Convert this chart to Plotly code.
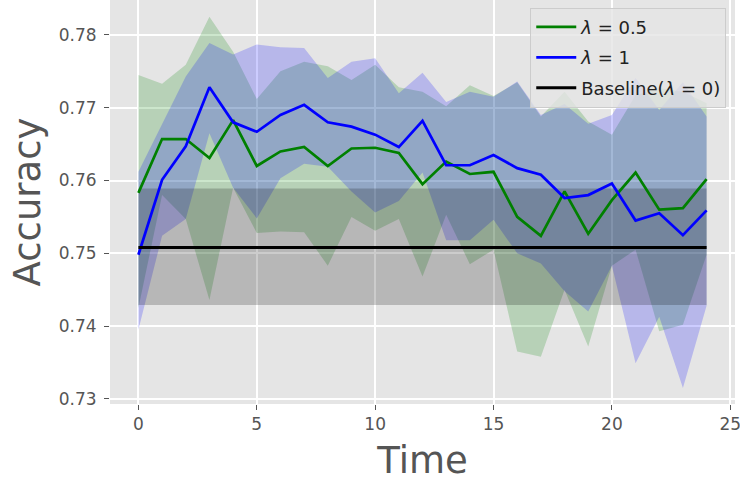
import plotly.graph_objects as go

# Time steps
time = list(range(25))

# lambda = 0.5 : mean accuracy and band limits
acc_half = [0.7583, 0.7657, 0.7657, 0.7631, 0.7683, 0.7620, 0.7640, 0.7646, 0.7620, 0.7644,
            0.7645, 0.7638, 0.7595, 0.7626, 0.7609, 0.7612, 0.7550, 0.7524, 0.7585, 0.7527,
            0.7573, 0.7611, 0.7560, 0.7562, 0.7602]
acc_half_upper = [0.7745, 0.7733, 0.7759, 0.7825, 0.7777, 0.7712, 0.7750, 0.7763, 0.7757, 0.7738,
                  0.7759, 0.7728, 0.7722, 0.7702, 0.7731, 0.7716, 0.7735, 0.7688, 0.7722, 0.7681,
                  0.7663, 0.7717, 0.7727, 0.7722, 0.7706]
acc_half_lower = [0.7425, 0.7580, 0.7547, 0.7436, 0.7590, 0.7528, 0.7530, 0.7529, 0.7483, 0.7550,
                  0.7531, 0.7547, 0.7468, 0.7553, 0.7485, 0.7505, 0.7365, 0.7358, 0.7450, 0.7372,
                  0.7483, 0.7505, 0.7393, 0.7402, 0.7498]

# lambda = 1 : mean accuracy and band limits
acc_one = [0.7498, 0.7601, 0.7647, 0.7728, 0.7680, 0.7667, 0.7690, 0.7704, 0.7680, 0.7674,
           0.7663, 0.7646, 0.7682, 0.7621, 0.7621, 0.7635, 0.7617, 0.7608, 0.7576, 0.7580,
           0.7596, 0.7545, 0.7555, 0.7525, 0.7559]
acc_one_upper = [0.7612, 0.7678, 0.7743, 0.7789, 0.7773, 0.7787, 0.7783, 0.7782, 0.7741, 0.7763,
                 0.7768, 0.7720, 0.7748, 0.7708, 0.7722, 0.7715, 0.7736, 0.7690, 0.7705, 0.7678,
                 0.7690, 0.7741, 0.7697, 0.7735, 0.7688]
acc_one_lower = [0.7395, 0.7524, 0.7547, 0.7665, 0.7590, 0.7548, 0.7603, 0.7623, 0.7619, 0.7585,
                 0.7556, 0.7572, 0.7611, 0.7518, 0.7518, 0.7546, 0.7500, 0.7486, 0.7448, 0.7420,
                 0.7483, 0.7349, 0.7413, 0.7315, 0.7428]

# Baseline (lambda = 0)
baseline_mean = 0.7508
baseline_upper = 0.7589
baseline_lower = 0.7429

x_ticks = [0, 5, 10, 15, 20, 25]
y_ticks = [0.73, 0.74, 0.75, 0.76, 0.77, 0.78]

GREEN = "rgb(0,128,0)"
BLUE = "rgb(0,0,255)"
TEXT = "#555555"


def band(x, lo, hi, fillcolor):
    lower = go.Scatter(x=x, y=lo, mode="lines", line=dict(width=0, color=fillcolor),
                       showlegend=False, hoverinfo="skip")
    upper = go.Scatter(x=x, y=hi, mode="lines", line=dict(width=0, color=fillcolor),
                       fill="tonexty", fillcolor=fillcolor, showlegend=False, hoverinfo="skip")
    return [lower, upper]


fig = go.Figure()

for tr in band(time, acc_half_lower, acc_half_upper, "rgba(0,128,0,0.2)"):
    fig.add_trace(tr)
for tr in band(time, acc_one_lower, acc_one_upper, "rgba(0,0,255,0.2)"):
    fig.add_trace(tr)
for tr in band(time, [baseline_lower] * len(time), [baseline_upper] * len(time), "rgba(0,0,0,0.2)"):
    fig.add_trace(tr)

fig.add_trace(go.Scatter(x=time, y=acc_half, mode="lines", line=dict(color=GREEN, width=2.7),
                         name="<i>λ</i> = 0.5", legendgroup="half", legendrank=1))
fig.add_trace(go.Scatter(x=time, y=acc_one, mode="lines", line=dict(color=BLUE, width=2.7),
                         name="<i>λ</i> = 1", legendgroup="one", legendrank=2))
fig.add_trace(go.Scatter(x=time, y=[baseline_mean] * len(time), mode="lines",
                         line=dict(color="black", width=3), name="Baseline(<i>λ</i> = 0)",
                         legendgroup="base", legendrank=3))

axis_common = dict(
    showgrid=True, gridcolor="white", gridwidth=1.5,
    zeroline=False, showline=False,
    ticks="outside", ticklen=5, tickwidth=1, tickcolor=TEXT,
    tickfont=dict(family="DejaVu Sans", size=17, color=TEXT),
    ticklabeloverflow="allow",
)

fig.update_layout(
    width=740, height=483,
    margin=dict(l=110, r=5, t=0, b=79),
    paper_bgcolor="white",
    plot_bgcolor="#E5E5E5",
    font=dict(family="DejaVu Sans", color=TEXT),
    xaxis=dict(range=[-1.2, 25.2], tickvals=x_ticks,
               title=dict(text="Time", font=dict(size=37, color=TEXT), standoff=13),
               **axis_common),
    yaxis=dict(range=[0.7293, 0.7848], tickvals=y_ticks, tickformat=".2f",
               ticklabelstandoff=4,
               title=dict(text="Accuracy", font=dict(size=37, color=TEXT), standoff=6),
               **axis_common),
    legend=dict(
        x=0.986, y=0.981, xanchor="right", yanchor="top",
        bgcolor="rgba(229,229,229,0.8)", bordercolor="#CCCCCC", borderwidth=1,
        font=dict(family="DejaVu Sans", size=18, color="#222222"),
        itemwidth=40, tracegroupgap=4, traceorder="grouped",
    ),
    showlegend=True,
)

fig.write_html("out.html")
